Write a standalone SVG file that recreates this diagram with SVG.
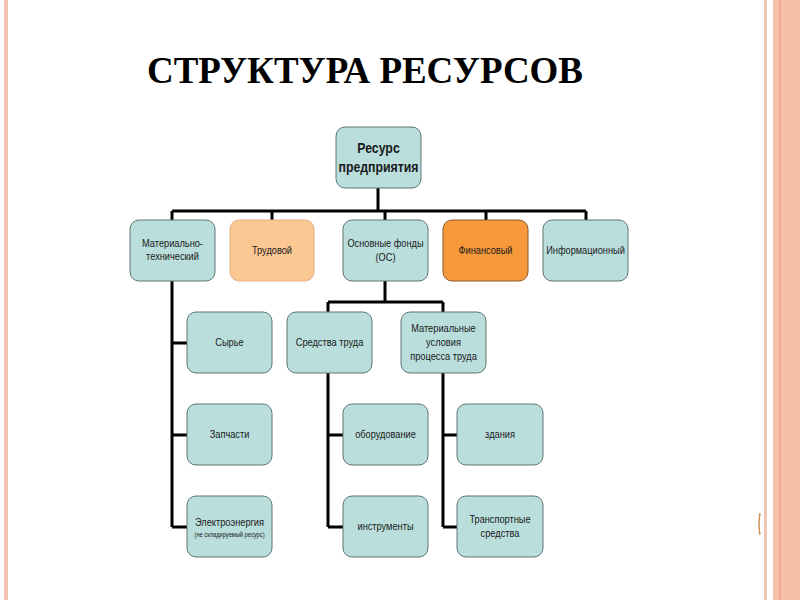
<svg xmlns="http://www.w3.org/2000/svg" width="800" height="600" viewBox="0 0 800 600">
<style>
.box{fill:#B9DEDC;stroke:#5E7474;stroke-width:1}
.lt{fill:#FBC894;stroke:#E2B080;stroke-width:1}
.or{fill:#F7993A;stroke:#8A5A2A;stroke-width:1}
.t{font-family:"Liberation Sans",Arial,sans-serif;font-size:10.5px;fill:#1a1a1a;text-anchor:middle}
.b{font-family:"Liberation Sans",Arial,sans-serif;font-size:14px;font-weight:bold;fill:#1a1a1a;text-anchor:middle}
.s{font-family:"Liberation Sans",Arial,sans-serif;font-size:6.5px;fill:#1a1a1a;text-anchor:middle}
.c{fill:none;stroke:#000;stroke-width:3}
</style>
<rect x="0" y="0" width="800" height="600" fill="#fff"/>
<g id="page">
<rect x="4" y="0" width="4" height="600" fill="#F4C3B0"/>
<rect x="764" y="0" width="3" height="600" fill="#F2C4B4"/>
<rect x="773" y="0" width="27" height="600" fill="#F5BFAA"/>
<rect x="779.5" y="0" width="1" height="600" fill="#E59A7A"/>
<path d="M760 513 Q758 524 760 535" fill="none" stroke="#C8925A" stroke-width="1.5"/>
</g>
<text id="title" x="365" y="83" font-family="Liberation Serif,'Times New Roman',serif" font-size="38" font-weight="bold" text-anchor="middle" textLength="436" lengthAdjust="spacingAndGlyphs" fill="#000">СТРУКТУРА РЕСУРСОВ</text>
<g id="connectors">
<path class="c" d="M378 188V211M172 211H586M172 211V220M272 211V220M385 211V220M486 211V220M586 211V220"/>
<path class="c" d="M172 281V527M172 343H187M172 435H187M172 527H187"/>
<path class="c" d="M385 281V302M328 302H443M328 302V312M443 302V312"/>
<path class="c" d="M328 373V527M328 435H343M328 527H343"/>
<path class="c" d="M443 373V527M443 435H457M443 527H457"/>
</g>
<g id="root"><rect class="box" x="336" y="127" width="85" height="61" rx="9"/><g transform="translate(378.5 0) scale(0.88 1)"><text class="b" x="0" y="153">Ресурс</text><text class="b" x="0" y="172">предприятия</text></g></g>
<g id="mat-tech"><rect class="box" x="130" y="220" width="85" height="61" rx="9"/><g transform="translate(172.5 0) scale(0.88 1)"><text class="t" x="0" y="247">Материально-</text><text class="t" x="0" y="260">технический</text></g></g>
<g id="trud"><rect class="lt" x="230" y="220" width="84" height="61" rx="9"/><g transform="translate(272 0) scale(0.88 1)"><text class="t" x="0" y="254">Трудовой</text></g></g>
<g id="os"><rect class="box" x="343" y="220" width="85" height="61" rx="9"/><g transform="translate(385.5 0) scale(0.88 1)"><text class="t" x="0" y="247">Основные фонды</text><text class="t" x="0" y="261">(ОС)</text></g></g>
<g id="fin"><rect class="or" x="443" y="220" width="85" height="61" rx="9"/><g transform="translate(485.5 0) scale(0.88 1)"><text class="t" x="0" y="254">Финансовый</text></g></g>
<g id="info"><rect class="box" x="543" y="220" width="85" height="61" rx="9"/><g transform="translate(585.5 0) scale(0.88 1)"><text class="t" x="0" y="254">Информационный</text></g></g>
<g id="syrie"><rect class="box" x="187" y="312" width="85" height="61" rx="9"/><g transform="translate(229.5 0) scale(0.88 1)"><text class="t" x="0" y="346">Сырье</text></g></g>
<g id="sredstva"><rect class="box" x="287" y="312" width="85" height="61" rx="9"/><g transform="translate(329.5 0) scale(0.88 1)"><text class="t" x="0" y="346">Средства труда</text></g></g>
<g id="usloviya"><rect class="box" x="401" y="312" width="85" height="61" rx="9"/><g transform="translate(443.5 0) scale(0.88 1)"><text class="t" x="0" y="332">Материальные</text><text class="t" x="0" y="346">условия</text><text class="t" x="0" y="360">процесса труда</text></g></g>
<g id="zapchasti"><rect class="box" x="187" y="404" width="85" height="61" rx="9"/><g transform="translate(229.5 0) scale(0.88 1)"><text class="t" x="0" y="438">Запчасти</text></g></g>
<g id="oborud"><rect class="box" x="343" y="404" width="85" height="61" rx="9"/><g transform="translate(385.5 0) scale(0.88 1)"><text class="t" x="0" y="438">оборудование</text></g></g>
<g id="zdaniya"><rect class="box" x="457" y="404" width="86" height="61" rx="9"/><g transform="translate(500 0) scale(0.88 1)"><text class="t" x="0" y="438">здания</text></g></g>
<g id="electro"><rect class="box" x="187" y="496" width="85" height="61" rx="9"/><g transform="translate(229.5 0) scale(0.88 1)"><text class="t" x="0" y="526">Электроэнергия</text><text class="s" x="0" y="537">(не складируемый ресурс)</text></g></g>
<g id="instr"><rect class="box" x="343" y="496" width="85" height="61" rx="9"/><g transform="translate(385.5 0) scale(0.88 1)"><text class="t" x="0" y="530">инструменты</text></g></g>
<g id="transport"><rect class="box" x="457" y="496" width="86" height="61" rx="9"/><g transform="translate(500 0) scale(0.88 1)"><text class="t" x="0" y="523">Транспортные</text><text class="t" x="0" y="537">средства</text></g></g>
</svg>
